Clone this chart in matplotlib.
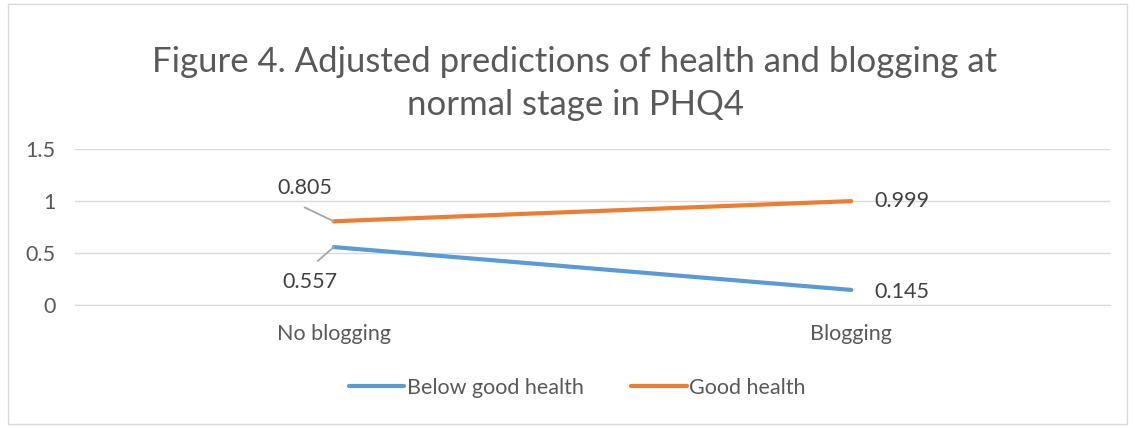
import matplotlib
matplotlib.use("Agg")
import matplotlib.pyplot as plt
from matplotlib.patches import Rectangle

categories = ["No blogging", "Blogging"]
below_good = [0.557, 0.145]
good = [0.805, 0.999]
yticks = [0, 0.5, 1, 1.5]

plt.rcParams['font.family'] = ['Lato', 'DejaVu Sans']
TXT = "#595959"
FS = 15.5

fig = plt.figure(figsize=(11.35, 4.28), dpi=100)
fig.patches.append(Rectangle((8/1135, 4/428), 1119/1135, 420/428, transform=fig.transFigure,
                             fill=False, edgecolor="#d9d9d9", linewidth=1))
ax = fig.add_axes([75/1135, 1-305/428, 1035/1135, 156/428])
x = list(range(len(categories)))
ax.plot(x, below_good, color="#5B9BD5", lw=3, solid_capstyle="round", label="Below good health", zorder=3)
ax.plot(x, good, color="#ED7D31", lw=3, solid_capstyle="round", label="Good health", zorder=3)
ax.set_xlim(-0.5, 1.5)
ax.set_ylim(0, 1.5)
ax.set_yticks(yticks)
ax.set_yticklabels(["0", "0.5", "1", "1.5"])
ax.set_xticks(x)
ax.set_xticklabels(categories)
ax.grid(axis="y", color="#d9d9d9", lw=1)
ax.set_axisbelow(True)
for s in ["top", "right", "left"]:
    ax.spines[s].set_visible(False)
ax.spines["bottom"].set_color("#d9d9d9")
ax.tick_params(axis="both", length=0, labelsize=FS, colors=TXT)
ax.tick_params(axis="y", pad=14)
ax.tick_params(axis="x", pad=14)

# leader lines
ax.annotate("", xy=(x[0], good[0]), xytext=(-21, 10), textcoords="offset points",
            arrowprops=dict(arrowstyle="-", color="#a6a6a6", lw=1.3, shrinkA=0, shrinkB=0))
ax.annotate("", xy=(x[0], below_good[0]), xytext=(-11.5, -10), textcoords="offset points",
            arrowprops=dict(arrowstyle="-", color="#a6a6a6", lw=1.3, shrinkA=0, shrinkB=0))
# data labels
ax.annotate(f"{good[0]:.3f}", xy=(x[0], good[0]), xytext=(-21, 24), textcoords="offset points",
            ha="center", va="center", fontsize=FS, color="#404040")
ax.annotate(f"{below_good[0]:.3f}", xy=(x[0], below_good[0]), xytext=(-17, -25), textcoords="offset points",
            ha="center", va="center", fontsize=FS, color="#404040")
ax.annotate(f"{good[1]:.3f}", xy=(x[1], good[1]), xytext=(17, 0), textcoords="offset points",
            ha="left", va="center", fontsize=FS, color="#404040")
ax.annotate(f"{below_good[1]:.3f}", xy=(x[1], below_good[1]), xytext=(17, -1.5), textcoords="offset points",
            ha="left", va="center", fontsize=FS, color="#404040")

fig.text(575/1135, 1-62/428, "Figure 4. Adjusted predictions of health and blogging at",
         ha="center", va="center", fontsize=25, color=TXT)
fig.text(575/1135, 1-105/428, "normal stage in PHQ4",
         ha="center", va="center", fontsize=25, color=TXT)

leg = fig.legend(loc="center", bbox_to_anchor=(577/1135, 1-388/428), ncol=2, frameon=False,
                 fontsize=FS, labelcolor=TXT, handlelength=2.6, handletextpad=0.1, columnspacing=2.2)
fig.savefig("out.png", dpi=100)
